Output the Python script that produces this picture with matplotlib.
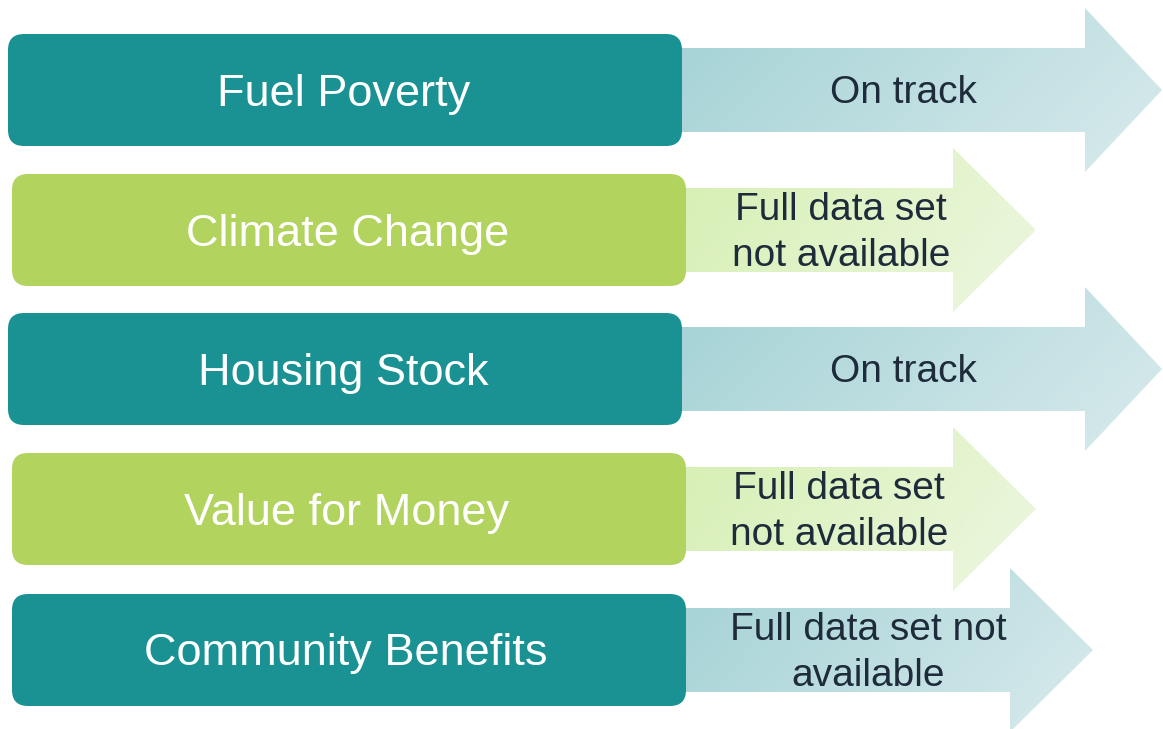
import numpy as np
import matplotlib
matplotlib.use("Agg")
import matplotlib.pyplot as plt
from matplotlib.patches import FancyBboxPatch, Polygon
from matplotlib.colors import LinearSegmentedColormap

plt.rcParams["font.family"] = ["Liberation Sans", "DejaVu Sans"]

# ── content ───────────────────────────────────────────────────────────────────
themes = ["Fuel Poverty", "Climate Change", "Housing Stock",
          "Value for Money", "Community Benefits"]
status = ["On track", "Full data set\nnot available", "On track",
          "Full data set\nnot available", "Full data set not\navailable"]
kind = ["teal", "green", "teal", "green", "teal"]

# ── layout (pixel coords, y down) ─────────────────────────────────────────────
box_x0 = [8, 12, 8, 12, 12]
box_x1 = [682, 686, 682, 686, 686]
box_y0 = [34, 174, 313, 453, 594]
box_h = 112
head_x0 = [1085, 953, 1085, 953, 1010]
tip_x = [1162, 1036, 1162, 1036, 1093]
head_half = 82
shaft_half = 42
label_cx = [344, 348, 343, 347, 346]
status_cx = [903, 841, 903, 839, 868]

box_col = {"teal": "#1A9193", "green": "#B2D35E"}
grad = {"teal": ("#A3D2D5", "#D8EAEC"), "green": ("#D6EFB2", "#EDF7E0")}

W, H = 1163, 729
fig = plt.figure(figsize=(W / 100, H / 100), dpi=100)
ax = fig.add_axes([0, 0, 1, 1])
ax.set_xlim(0, W)
ax.set_ylim(H, 0)
ax.axis("off")

for i in range(len(themes)):
    cy = box_y0[i] + box_h / 2
    xs = box_x1[i] - 10
    pts = [(xs, cy - shaft_half), (head_x0[i], cy - shaft_half),
           (head_x0[i], cy - head_half), (tip_x[i], cy),
           (head_x0[i], cy + head_half), (head_x0[i], cy + shaft_half),
           (xs, cy + shaft_half)]
    poly = Polygon(pts, closed=True, facecolor="none", edgecolor="none")
    ax.add_patch(poly)
    # diagonal gradient clipped to arrow shape
    c0, c1 = grad[kind[i]]
    cmap = LinearSegmentedColormap.from_list("g%d" % i, [c0, c1])
    gx, gy = np.meshgrid(np.linspace(0, 1, 200), np.linspace(0, 1, 100))
    z = 0.75 * gx + 0.25 * gy
    im = ax.imshow(z, cmap=cmap, extent=(xs, tip_x[i], cy + head_half, cy - head_half),
                   aspect="auto", interpolation="bilinear", zorder=1)
    im.set_clip_path(poly)

    box = FancyBboxPatch((box_x0[i], box_y0[i]), box_x1[i] - box_x0[i], box_h,
                         boxstyle="round,pad=0,rounding_size=16",
                         facecolor=box_col[kind[i]], edgecolor="none", zorder=2)
    ax.add_patch(box)
    ax.text(label_cx[i], cy + 4, themes[i], color="white", fontsize=32.5,
            ha="center", va="center", zorder=3)
    ax.text(status_cx[i], cy + 3, status[i], color="#1E2B3A", fontsize=28,
            ha="center", va="center", linespacing=1.36, zorder=3)

fig.savefig("out.png", dpi=100, facecolor="white")
